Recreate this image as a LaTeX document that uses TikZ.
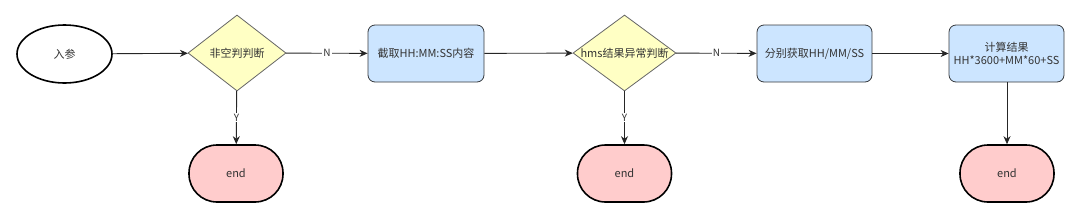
\documentclass[tikz,border=0pt]{standalone}
\usepackage{fontspec}
\setmainfont{Noto Sans CJK SC}
\usepackage{tikz}
\usepackage{xcolor}
\definecolor{boxblue}{HTML}{CCE5FF}
\definecolor{boxedge}{HTML}{36393D}
\definecolor{diayellow}{HTML}{FFFFC4}
\definecolor{diaedge}{HTML}{666666}
\definecolor{endpink}{HTML}{FFCCCC}
\definecolor{textgray}{HTML}{333333}
\usetikzlibrary{shapes,shapes.geometric,arrows,arrows.meta,positioning}

\tikzset{
  startnode/.style={ellipse, draw=black, line width=1.6pt, fill=white,
    minimum width=95pt, minimum height=58pt, inner sep=0pt},
  checknode/.style={diamond, draw=diaedge, line width=0.8pt, fill=diayellow,
    minimum height=76pt, inner sep=0pt},
  procnode/.style={rectangle, rounded corners=7pt, draw=boxedge, line width=0.8pt,
    fill=boxblue, minimum width=115pt, minimum height=57pt, inner sep=1pt, align=center},
  endnode/.style={rectangle, rounded corners=28pt, draw=black, line width=1.6pt,
    fill=endpink, minimum width=94pt, minimum height=57pt, inner sep=0pt},
  flow/.style={draw=black!85, line width=0.9pt, -{Stealth[length=8pt,width=7pt,inset=2.5pt]}},
  yn/.style={fill=white, inner sep=1pt, font=\fontsize{10}{11}\selectfont}
}

\begin{document}
\begin{tikzpicture}[x=1pt, y=-1pt, font=\fontsize{11}{13.5}\selectfont, text=textgray]
  \useasboundingbox (0,0) rectangle (1080,223);

  % main row
  \node[startnode] (start) at (64.5,54) {入参};
  \node[checknode, minimum width=98pt] (check1) at (237,53) {\makebox[0pt]{非空判判断}};
  \node[procnode, minimum width=116pt] (cut) at (426,53.5) {截取HH:MM:SS内容};
  \node[checknode, minimum width=103pt] (check2) at (624.5,53) {\makebox[0pt]{hms结果异常判断}};
  \node[procnode] (split) at (814.5,53.5) {分别获取HH/MM/SS};
  \node[procnode] (calc) at (1006.5,53.5) {计算结果\\[-1pt]HH*3600+MM*60+SS};

  % end nodes
  \node[endnode] (end1) at (236,173.5) {end};
  \node[endnode] (end2) at (624.5,173.5) {end};
  \node[endnode] (end3) at (1007,173.5) {end};

  \draw[flow] (start) -- (check1);
  \draw[flow] (check1) -- node[yn] {N} (cut);
  \draw[flow] (cut) -- (check2);
  \draw[flow] (check2) -- node[yn] {N} (split);
  \draw[flow] (split) -- (calc);
  \draw[flow] (check1) -- node[yn] {Y} (end1);
  \draw[flow] (check2) -- node[yn] {Y} (end2);
  \draw[flow] (calc.south -| end3.north) -- (end3);
\end{tikzpicture}
\end{document}
